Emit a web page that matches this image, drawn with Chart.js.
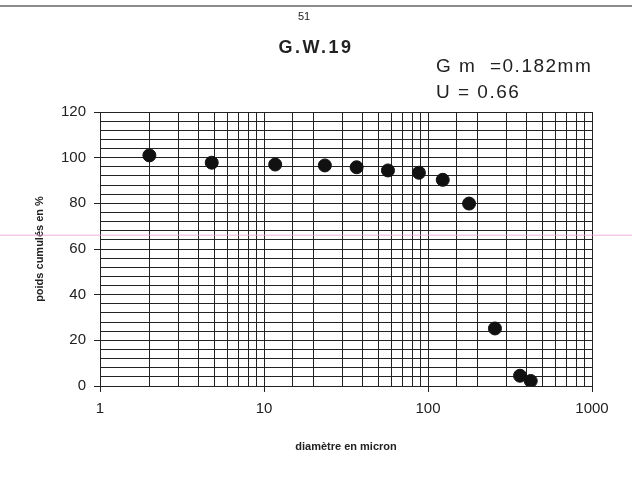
<!DOCTYPE html>
<html>
<head>
<meta charset="utf-8">
<script src="https://cdn.jsdelivr.net/npm/chart.js@4.4.1/dist/chart.umd.min.js"></script>
<style>
  html, body { margin: 0; padding: 0; background: #fff; }
  #wrap { width: 632px; height: 484px; }
</style>
</head>
<body>
<div id="wrap"><canvas id="myChart" width="632" height="484"></canvas></div>
<script>
// values
const diameters = [2, 4.8, 11.7, 23.5, 36.7, 57, 88, 123, 178, 256, 364, 423];
const cumulated = [101, 97.8, 97, 96.6, 95.8, 94.4, 93.4, 90.3, 79.9, 25.2, 4.5, 2.2];
const yTickLabels = [0, 20, 40, 60, 80, 100, 120];
const xTickLabels = [1, 10, 100, 1000];

const FONT = "'Liberation Sans', Arial, sans-serif";

const points = diameters.map((d, i) => ({ x: d, y: cumulated[i] }));

// header texts, top rule and the pink scan streak
const sheetText = {
  id: "sheetText",
  afterDraw(chart) {
    const ctx = chart.ctx;
    const w = chart.width;
    ctx.save();
    ctx.strokeStyle = "#666";
    ctx.lineWidth = 1.5;
    ctx.beginPath();
    ctx.moveTo(0, 6);
    ctx.lineTo(w, 6);
    ctx.stroke();

    ctx.fillStyle = "#222";
    ctx.textAlign = "center";
    ctx.textBaseline = "middle";
    ctx.font = "11px " + FONT;
    ctx.fillText("51", 304, 17);
    ctx.font = "bold 18px " + FONT;
    ctx.letterSpacing = "2.5px";
    ctx.fillText("G.W.19", 316, 48);

    ctx.textAlign = "left";
    ctx.font = "19px " + FONT;
    ctx.letterSpacing = "1.5px";
    ctx.fillText("G m  =0.182mm", 436, 67);
    ctx.fillText("U = 0.66", 436, 93);
    ctx.letterSpacing = "0px";

    const yPink = chart.scales.y.getPixelForValue(66);
    ctx.strokeStyle = "rgba(235,160,210,0.55)";
    ctx.lineWidth = 1.5;
    ctx.beginPath();
    ctx.moveTo(0, yPink);
    ctx.lineTo(w, yPink);
    ctx.stroke();
    ctx.restore();
  }
};

new Chart(document.getElementById("myChart"), {
  type: "scatter",
  data: {
    datasets: [{
      data: points,
      backgroundColor: "#111",
      borderColor: "#111",
      pointRadius: 6.5,
      pointHoverRadius: 6.5
    }]
  },
  options: {
    responsive: false,
    animation: false,
    layout: { padding: { top: 112, right: 40, left: 0, bottom: 0 } },
    plugins: { legend: { display: false }, tooltip: { enabled: false } },
    scales: {
      x: {
        type: "logarithmic",
        min: 1,
        max: 1000,
        afterFit: (s) => { s.height = 98; },
        border: { color: "#222", width: 1 },
        grid: {
          color: "#222",
          lineWidth: 1,
          tickLength: 6,
          tickColor: (c) => xTickLabels.includes(c.tick && c.tick.value) ? "#222" : "rgba(0,0,0,0)"
        },
        ticks: {
          autoSkip: false,
          maxRotation: 0,
          padding: 8,
          color: "#222",
          font: { family: FONT, size: 15 },
          callback: (v) => xTickLabels.includes(v) ? String(v) : ""
        },
        title: {
          display: true,
          text: "diamètre en micron",
          color: "#222",
          font: { family: FONT, size: 11, weight: "bold" },
          padding: { bottom: 30 }
        }
      },
      y: {
        min: 0,
        max: 120,
        afterFit: (s) => { s.width = 100; },
        border: { color: "#222", width: 1 },
        grid: {
          color: "#222",
          lineWidth: 1,
          tickLength: 6,
          tickColor: (c) => yTickLabels.includes(c.tick && c.tick.value) ? "#222" : "rgba(0,0,0,0)"
        },
        ticks: {
          stepSize: 4,
          autoSkip: false,
          padding: 8,
          color: "#222",
          font: { family: FONT, size: 15 },
          callback: (v) => yTickLabels.includes(v) ? String(v) : ""
        },
        title: {
          display: true,
          text: "poids cumulés en %",
          color: "#222",
          font: { family: FONT, size: 11, weight: "bold" },
          padding: { top: 33 }
        }
      }
    }
  },
  plugins: [sheetText]
});
</script>
</body>
</html>
